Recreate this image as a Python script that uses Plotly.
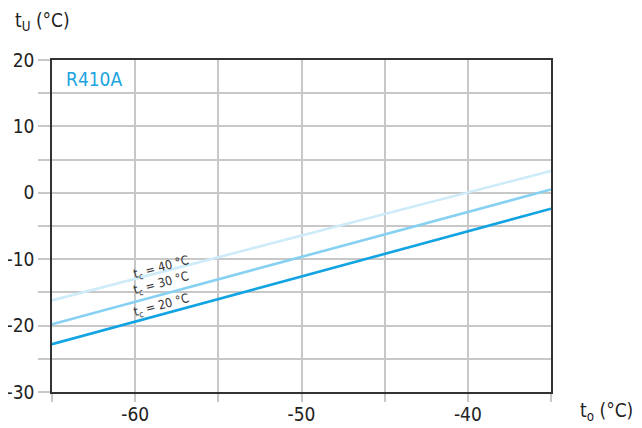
import plotly.graph_objects as go

# Data
t_o = [-65, -35]
tc20 = [-22.8, -2.4]
tc30 = [-19.8, 0.5]
tc40 = [-16.2, 3.3]
series_names = ["t<sub>c</sub> = 20 °C", "t<sub>c</sub> = 30 °C", "t<sub>c</sub> = 40 °C"]
x_tickvals = [-65, -60, -55, -50, -45, -40, -35]
x_ticktext = ["", "-60", "", "-50", "", "-40", ""]
y_tickvals = [-30, -25, -20, -15, -10, -5, 0, 5, 10, 15, 20]
y_ticktext = ["-30", "", "-20", "", "-10", "", "0", "", "10", "", "20"]

FONT = "DejaVu Sans Condensed, DejaVu Sans, sans-serif"
colors = ["#12a3e2", "#86d0f2", "#cdebf9"]

def f(size, color):
    return dict(family=FONT, size=size, color=color)

fig = go.Figure()
for ys, c, n in [(tc40, colors[2], series_names[2]), (tc30, colors[1], series_names[1]), (tc20, colors[0], series_names[0])]:
    fig.add_trace(go.Scatter(x=t_o, y=ys, mode="lines", line=dict(color=c, width=2.6), name=n, showlegend=False, hoverinfo="skip"))

label_pos = [(-58.4, -16.9), (-58.4, -13.7), (-58.4, -11.3)]
for (lx, ly), n in zip(label_pos, series_names):
    fig.add_annotation(x=lx, y=ly, xref="x", yref="y", text=n, showarrow=False, textangle=-15,
                       font=f(12.5, "#333333"))

fig.add_annotation(xref="paper", yref="paper", x=-0.078, y=1.115, xanchor="left", yanchor="middle",
                   text="t<sub>U</sub> (°C)", showarrow=False, font=f(19, "#222222"))
fig.add_annotation(xref="paper", yref="paper", x=1.054, y=-0.058, xanchor="left", yanchor="middle",
                   text="t<sub>o</sub> (°C)", showarrow=False, font=f(19, "#222222"))
fig.add_annotation(xref="paper", yref="paper", x=0.024, y=0.943, xanchor="left", yanchor="middle",
                   text="R410A", showarrow=False, font=f(19, "#1ba4e0"))

axis_common = dict(showgrid=True, gridcolor="#c8c8c8", gridwidth=1.5, zeroline=False,
                   showline=True, linecolor="#333333", linewidth=1.5, mirror=True,
                   ticks="outside", tickcolor="#c8c8c8", tickwidth=1.5, automargin=False,
                   tickfont=f(19, "#222222"))
fig.update_xaxes(range=[-65, -35], tickmode="array", tickvals=x_tickvals, ticktext=x_ticktext, ticklen=8,
                 ticklabelstandoff=-4, **axis_common)
fig.update_yaxes(range=[-30, 20], tickmode="array", tickvals=y_tickvals, ticktext=y_ticktext, ticklen=12, **axis_common)

# page body has an 8px margin, so the figure is offset by 8px
fig.update_layout(width=634, height=420, margin=dict(l=44, r=91, t=52, b=36, autoexpand=False),
                  plot_bgcolor="white", paper_bgcolor="white", showlegend=False)
fig.write_html("out.html")
